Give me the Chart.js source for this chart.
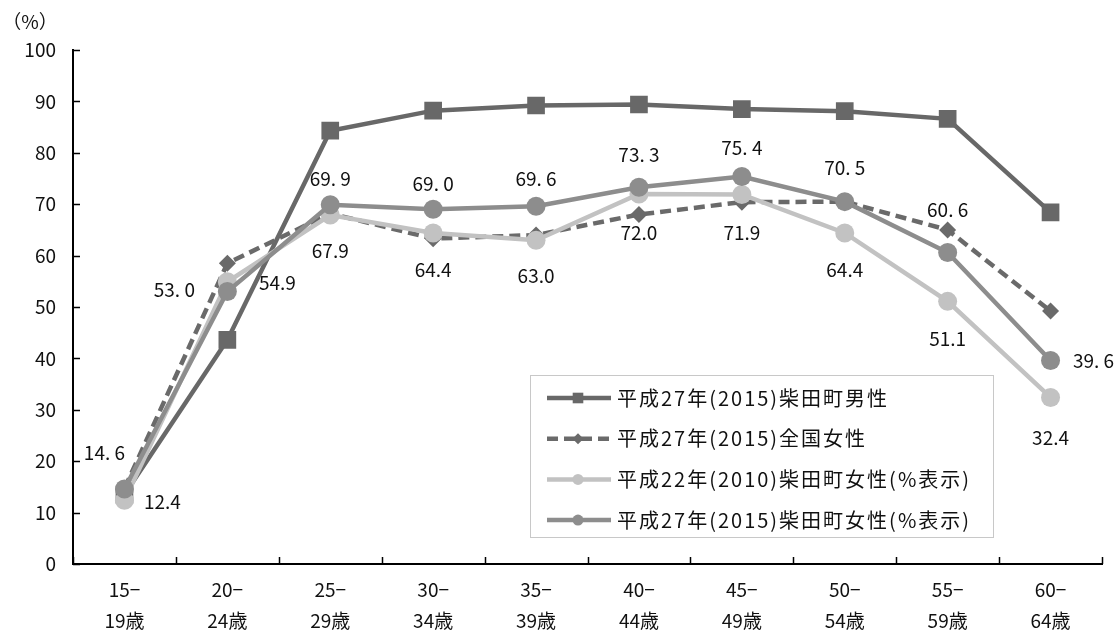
<!DOCTYPE html>
<html lang="ja">
<head>
<meta charset="UTF-8">
<title>労働力率</title>
<script src="https://cdn.jsdelivr.net/npm/chart.js"></script>
<style>
  html, body { margin: 0; padding: 0; background: #fff; }
  #wrap { width: 1120px; height: 632px; position: relative; }
</style>
</head>
<body>
<div id="wrap"><canvas id="rateChart"></canvas></div>
<script>
  // 年齢階級と各系列の労働力率(%)
  const ageGroups = [
    ['15−', '19歳'], ['20−', '24歳'], ['25−', '29歳'], ['30−', '34歳'], ['35−', '39歳'],
    ['40−', '44歳'], ['45−', '49歳'], ['50−', '54歳'], ['55−', '59歳'], ['60−', '64歳']
  ];
  const male2015 = [13.5, 43.6, 84.3, 88.2, 89.2, 89.4, 88.5, 88.1, 86.6, 68.4];
  const nationalFemale2015 = [14.7, 58.5, 68.2, 63.3, 64.0, 68.0, 70.4, 70.5, 65.0, 49.2];
  const female2010 = [12.4, 54.9, 67.9, 64.4, 63.0, 72.0, 71.9, 64.4, 51.1, 32.4];
  const female2015 = [14.6, 53.0, 69.9, 69.0, 69.6, 73.3, 75.4, 70.5, 60.6, 39.6];
  const yTicks = [0, 10, 20, 30, 40, 50, 60, 70, 80, 90, 100];

  const FONT = '"Noto Sans CJK JP", "Noto Sans", sans-serif';

  // value label placement per point [dx, dy]
  const labelOffsets2015 = [[-20, -36], [-53, -2], [0, -26], [0, -26], [0, -27], [0, -32], [0, -29], [0, -34], [0, -43], [43, 0]];
  const labelOffsets2010 = [[38, 2], [50, 1], [0, 36], [0, 37], [0, 36], [0, 39], [0, 38], [0, 37], [0, 37], [0, 40]];

  // inward tick marks on both axes
  const innerTicks = {
    id: 'innerTicks',
    afterDraw(chart) {
      const { ctx, chartArea: a } = chart;
      const y = chart.scales.y;
      ctx.save();
      ctx.strokeStyle = '#000';
      ctx.lineWidth = 1.5;
      ctx.beginPath();
      yTicks.forEach(v => {
        const py = Math.round(y.getPixelForValue(v)) + 0.5;
        ctx.moveTo(a.left, py);
        ctx.lineTo(a.left + 7, py);
      });
      const n = ageGroups.length;
      const step = (a.right - a.left) / n;
      for (let k = 0; k <= n; k++) {
        const px = Math.round(a.left + k * step) + 0.5;
        ctx.moveTo(px, a.bottom);
        ctx.lineTo(px, a.bottom - 7);
      }
      ctx.stroke();
      ctx.restore();
    }
  };

  // numeric labels for the two 柴田町女性 series
  const valueLabels = {
    id: 'valueLabels',
    afterDatasetsDraw(chart) {
      const { ctx } = chart;
      const draw = (dsIndex, offsets, fmt) => {
        const meta = chart.getDatasetMeta(dsIndex);
        const data = chart.data.datasets[dsIndex].data;
        meta.data.forEach((pt, i) => {
          const [dx, dy] = offsets[i];
          ctx.fillText(fmt(data[i]), pt.x + dx, pt.y + dy);
        });
      };
      ctx.save();
      ctx.fillStyle = '#111';
      ctx.font = '19px ' + FONT;
      ctx.textAlign = 'center';
      ctx.textBaseline = 'middle';
      draw(3, labelOffsets2015, v => v.toFixed(1).replace('.', '. '));
      draw(2, labelOffsets2010, v => v.toFixed(1));
      ctx.restore();
    }
  };

  // boxed legend inside the plot + unit caption
  const boxLegend = {
    id: 'boxLegend',
    afterDraw(chart) {
      const { ctx } = chart;
      const bx = 530, by = 375, bw = 463, bh = 162;
      ctx.save();
      ctx.fillStyle = '#fff';
      ctx.fillRect(bx, by, bw, bh);
      ctx.strokeStyle = '#c8c8c8';
      ctx.lineWidth = 1;
      ctx.strokeRect(bx + 0.5, by + 0.5, bw, bh);

      chart.data.datasets.forEach((ds, i) => {
        const y = by + 23 + i * 40.7;
        ctx.strokeStyle = ds.borderColor;
        ctx.lineWidth = ds.borderWidth;
        ctx.setLineDash(ds.borderDash || []);
        ctx.beginPath();
        ctx.moveTo(bx + 17, y);
        ctx.lineTo(bx + 81, y);
        ctx.stroke();
        ctx.setLineDash([]);
        ctx.fillStyle = ds.pointBackgroundColor;
        ctx.strokeStyle = ds.pointBackgroundColor;
        ctx.lineWidth = 1;
        Chart.helpers.drawPoint(ctx, { pointStyle: ds.pointStyle, radius: ds.legendRadius, rotation: 0, borderWidth: 0 }, bx + 48, y);
        ctx.fillStyle = '#111';
        ctx.font = '20px ' + FONT;
        ctx.letterSpacing = '2px';
        ctx.textBaseline = 'middle';
        ctx.textAlign = 'left';
        ctx.fillText(ds.label, bx + 87, y);
        ctx.letterSpacing = '0px';
      });

      ctx.font = '19px ' + FONT;
      ctx.textAlign = 'center';
      ctx.textBaseline = 'middle';
      ctx.fillText('（%）', 30, 22);
      ctx.restore();
    }
  };

  new Chart(document.getElementById('rateChart'), {
    type: 'line',
    data: {
      labels: ageGroups,
      datasets: [
        {
          label: '平成27年(2015)柴田町男性',
          data: male2015,
          borderColor: '#686868',
          backgroundColor: '#686868',
          pointBackgroundColor: '#686868',
          pointBorderWidth: 0,
          borderWidth: 4.5,
          pointStyle: 'rect',
          pointRadius: 12.5,
          legendRadius: 7.5,
          order: 3
        },
        {
          label: '平成27年(2015)全国女性',
          data: nationalFemale2015,
          borderColor: '#6a6a6a',
          backgroundColor: '#6a6a6a',
          pointBackgroundColor: '#6a6a6a',
          pointBorderWidth: 0,
          borderWidth: 4.5,
          borderDash: [11, 6],
          pointStyle: 'rectRot',
          pointRadius: 8.5,
          legendRadius: 5.5,
          order: 2
        },
        {
          label: '平成22年(2010)柴田町女性(%表示)',
          data: female2010,
          borderColor: '#c2c2c2',
          backgroundColor: '#c2c2c2',
          pointBackgroundColor: '#c2c2c2',
          pointBorderWidth: 0,
          borderWidth: 4.5,
          pointStyle: 'circle',
          pointRadius: 9.5,
          legendRadius: 5.5,
          order: 1
        },
        {
          label: '平成27年(2015)柴田町女性(%表示)',
          data: female2015,
          borderColor: '#8d8d8d',
          backgroundColor: '#8d8d8d',
          pointBackgroundColor: '#8d8d8d',
          pointBorderWidth: 0,
          borderWidth: 4.5,
          pointStyle: 'circle',
          pointRadius: 9.5,
          legendRadius: 5.5,
          order: 0
        }
      ]
    },
    options: {
      responsive: true,
      maintainAspectRatio: false,
      animation: false,
      layout: { padding: { top: 50, right: 18, left: 0, bottom: 0 } },
      plugins: {
        legend: { display: false },
        tooltip: { enabled: false }
      },
      scales: {
        x: {
          offset: true,
          grid: { display: false, drawTicks: false },
          border: { display: true, color: '#000', width: 2 },
          ticks: {
            color: '#111',
            font: { family: FONT, size: 19, lineHeight: 1.6 },
            padding: 11,
            maxRotation: 0,
            autoSkip: false
          },
          afterFit(scale) { scale.height = 68; }
        },
        y: {
          min: 0,
          max: 100,
          grid: { display: false, drawTicks: false },
          border: { display: true, color: '#000', width: 2 },
          afterBuildTicks(scale) { scale.ticks = yTicks.map(v => ({ value: v })); },
          ticks: {
            color: '#111',
            font: { family: FONT, size: 19 },
            padding: 17
          },
          afterFit(scale) { scale.width = 73; }
        }
      }
    },
    plugins: [innerTicks, valueLabels, boxLegend]
  });
</script>
</body>
</html>
